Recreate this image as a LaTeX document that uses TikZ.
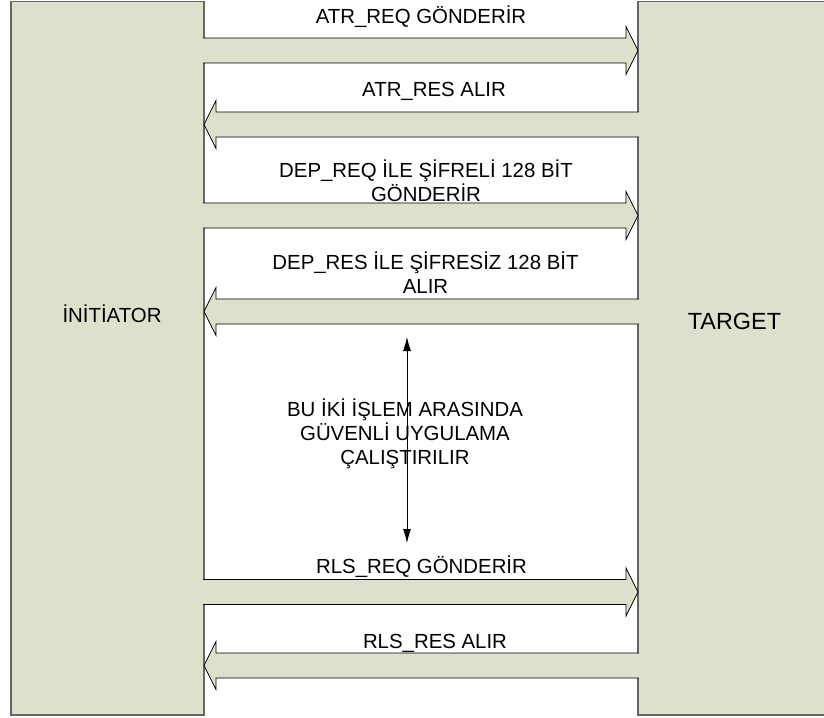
\documentclass[tikz,border=0pt]{standalone}
\usepackage{fontspec}
\setmainfont{Liberation Sans}
\usetikzlibrary{arrows.meta, positioning, calc}
\definecolor{boxgreen}{RGB}{221,225,204}

\begin{document}
\begin{tikzpicture}[
    x=1pt, y=-1pt,
    box/.style={draw=black!60, line width=1.1pt, fill=boxgreen, outer sep=0pt, inner sep=0pt,
      minimum width=193pt, minimum height=713.5pt},
    flow/.style={draw=black, line width=0.8pt, fill=boxgreen, line join=miter},
    lbl/.style={font=\fontsize{20.4}{24}\selectfont, inner sep=0pt, align=center}
  ]
  \useasboundingbox (0,0) rectangle (824,717);

  % Kutular
  \node[box] (init) at (107.5,358.25) {};
  \node[box, right=434pt of init] (targ) {};

  % Ileri giden oklar
  \foreach \y in {50.5,215.5,592}
    \filldraw[flow] ($(init.east |- 0,\y-12.5)+(-1,0)$) -- ($(targ.west |- 0,\y-12.5)+(-12,0)$)
      -- ++(0,-11.5) -- (targ.west |- 0,\y) -- ++(-12,24) -- ++(0,-11.5)
      -- ($(init.east |- 0,\y+12.5)+(-1,0)$);

  % Geri gelen oklar
  \foreach \y in {124.5,311.5,665.5}
    \filldraw[flow] ($(targ.west |- 0,\y-12.5)+(1,0)$) -- ($(init.east |- 0,\y-12.5)+(12,0)$)
      -- ++(0,-11.5) -- (init.east |- 0,\y) -- ++(12,24) -- ++(0,-11.5)
      -- ($(targ.west |- 0,\y+12.5)+(1,0)$);

  % Etiketler
  \node[lbl, anchor=base] (initlbl) at (112,322.3) {İNİTİATOR};
  \node[lbl, anchor=base, font=\fontsize{23.4}{26}\selectfont] (targlbl) at (734.5,329) {TARGET};
  \node[lbl, anchor=base] (atrreq) at (421,23.8) {ATR\_REQ GÖNDERİR};
  \node[lbl, anchor=base] (atrres) at (434,96.8) {ATR\_RES ALIR};
  \node[lbl] (depreq) at (426,180.5) {DEP\_REQ İLE ŞİFRELİ 128 BİT\\GÖNDERİR};
  \node[lbl] (depres) at (425.5,272.5) {DEP\_RES İLE ŞİFRESİZ 128 BİT\\ALIR};
  \node[lbl] (guvenli) at (405,434) {BU İKİ İŞLEM ARASINDA\\GÜVENLİ UYGULAMA\\ÇALIŞTIRILIR};
  \node[lbl, anchor=base] (rlsreq) at (421.5,573.3) {RLS\_REQ GÖNDERİR};
  \node[lbl, anchor=base] (rlsres) at (435,648.3) {RLS\_RES ALIR};

  % Iki yonlu ok
  \coordinate (uptip) at (407,337);
  \coordinate (lowtip) at (407,543);
  \draw[{Latex[length=14pt,width=8pt]}-{Latex[length=14pt,width=8pt]}, line width=0.8pt] (uptip) -- (lowtip);

\end{tikzpicture}
\end{document}
